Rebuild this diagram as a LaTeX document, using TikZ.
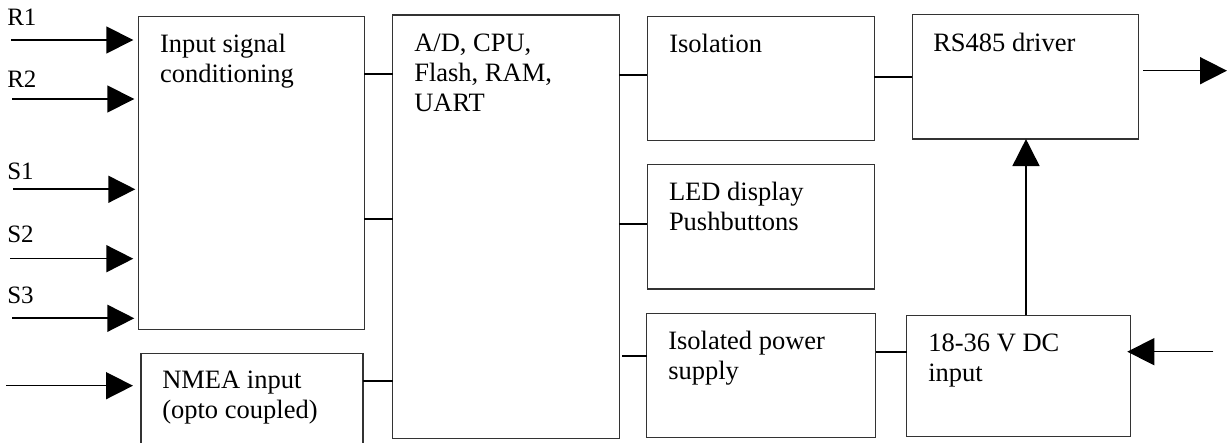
\documentclass[tikz,border=0pt]{standalone}
\usepackage{fontspec}
\setmainfont{Liberation Serif}
\usetikzlibrary{arrows.meta}
\begin{document}
\begin{tikzpicture}[x=1pt,y=-1pt,
  blk/.style={draw=black!80, line width=1.1pt, inner sep=0pt, outer sep=0pt, rectangle},
  txt/.style={anchor=base west, inner sep=0pt, outer sep=0pt, align=left,
    font=\fontsize{26.5}{30}\selectfont},
  lbl/.style={anchor=base west, inner sep=0pt, outer sep=0pt,
    font=\fontsize{25}{28}\selectfont},
  stub/.style={line width=2pt},
  arr/.style={line width=1.6pt, -{Triangle[length=27pt,width=27pt]}}]
\useasboundingbox (0,0) rectangle (1227,443);
% boxes
\node[blk, minimum width=226pt, minimum height=312.6pt] (isc) at (251.3,173) {};
\node[blk, minimum width=222pt, minimum height=98.7pt] (nmea) at (252,402.7) {};
\node[blk, minimum width=226.6pt, minimum height=423.3pt] (ad) at (506,226.7) {};
\node[blk, minimum width=226.7pt, minimum height=124.4pt] (iso) at (760.7,78.5) {};
\node[blk, minimum width=226.7pt, minimum height=124.3pt] (led) at (760.7,226.9) {};
\node[blk, minimum width=229pt, minimum height=123.6pt] (psu) at (761.2,375.5) {};
\node[blk, minimum width=226.3pt, minimum height=124.3pt] (rs) at (1025.2,76.9) {};
\node[blk, minimum width=223.6pt, minimum height=121.4pt] (dc) at (1018.5,376) {};
% texts (anchor = baseline of last line)
\node[txt] (isct) at (160,83) {Input signal\\conditioning};
\node[txt] (nmeat) at (162.3,419) {NMEA input\\(opto coupled)};
\node[txt] (adt) at (414.3,112) {A/D, CPU,\\Flash, RAM,\\UART};
\node[txt] (isot) at (669.3,52.7) {Isolation};
\node[txt] (ledt) at (669,230.5) {LED display\\Pushbuttons};
\node[txt] (psut) at (668.3,380) {Isolated power\\supply};
\node[txt] (rst) at (933.3,51.7) {RS485 driver};
\node[txt] (dct) at (928.3,382) {18-36 V DC\\input};
% input labels
\node[lbl] (lr1) at (7.3,26) {R1};
\node[lbl] (lr2) at (7.3,87.3) {R2};
\node[lbl] (ls1) at (7.3,180) {S1};
\node[lbl] (ls2) at (7.3,242.3) {S2};
\node[lbl] (ls3) at (7.3,303.3) {S3};
% input arrow tails
\coordinate (r1) at (11,40);
\coordinate (r2) at (12,99);
\coordinate (s1) at (13,189.3);
\coordinate (s2) at (10,258.7);
\coordinate (s3) at (12,318.3);
\coordinate (nin) at (6,385.7);
\coordinate (out) at (1227,70.7);
\coordinate (dcin) at (1213.3,351.7);
\draw[arr, shorten >=5pt] (r1) -- (isc.west |- r1);
\draw[arr, shorten >=4pt] (r2) -- (isc.west |- r2);
\draw[arr, shorten >=3pt] (s1) -- (isc.west |- s1);
\draw[arr, shorten >=5pt] (s2) -- (isc.west |- s2);
\draw[arr, shorten >=4pt] (s3) -- (isc.west |- s3);
\draw[arr, shorten >=8pt] (nin) -- (nmea.west |- nin);
\draw[arr, shorten <=5pt] (rs.east |- out) -- (out);
\draw[arr, shorten >=-3pt] (dcin) -- (dc.east |- dcin);
\draw[arr] (dc.north -| 1026,0) -- (rs.south -| 1026,0);
% stubs
\draw[stub] (isc.east |- 0,74.3) -- (ad.west |- 0,74.3);
\draw[stub] (isc.east |- 0,219.3) -- (ad.west |- 0,219.3);
\draw[stub] (nmea.east |- 0,380.7) -- (ad.west |- 0,380.7);
\draw[stub] (ad.east |- 0,75) -- (iso.west |- 0,75);
\draw[stub] (ad.east |- 0,223.7) -- (led.west |- 0,223.7);
\draw[stub, shorten <=3pt] (ad.east |- 0,355.7) -- (psu.west |- 0,355.7);
\draw[stub] (iso.east |- 0,77) -- (rs.west |- 0,77);
\draw[stub] (psu.east |- 0,352.3) -- (dc.west |- 0,352.3);
\end{tikzpicture}
\end{document}
